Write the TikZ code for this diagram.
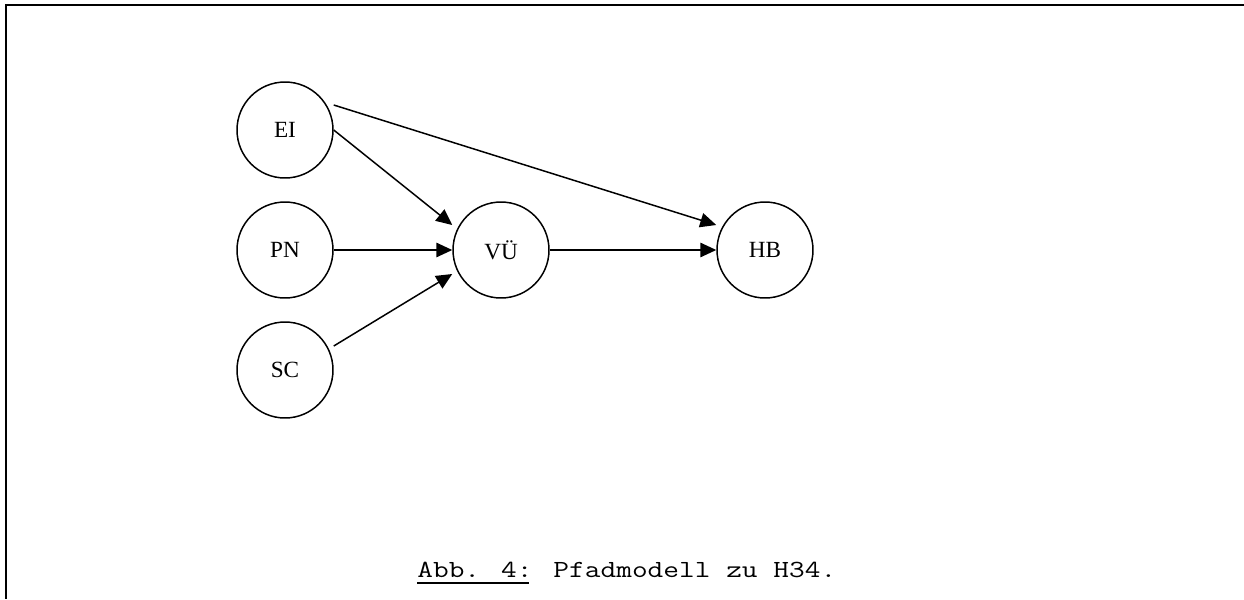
\documentclass[tikz,border=0pt]{standalone}
\usepackage{fontspec}
\setmainfont{Liberation Serif}
\usetikzlibrary{arrows.meta}
\begin{document}
\begin{tikzpicture}[x=0.02cm,y=-0.02cm,
  var/.style={circle,draw,line width=0.85pt,minimum size=1.92cm,inner sep=0pt,font=\fontsize{13.2}{15}\selectfont},
  path/.style={line width=0.85pt,-{Triangle[length=0.32cm,width=0.29cm]}},
  frame/.style={line width=1.2pt}]
\useasboundingbox (0,0) rectangle (1244,599);
\draw[frame] (1244,5) -- (6,5) -- (6,599);
\node[var] (EI) at (285,130) {EI};
\node[var] (PN) at (285,250) {PN};
\node[var] (SC) at (285,370) {SC};
\node[var] (VU) at (501,250) {VÜ};
\node[var] (HB) at (765,250) {HB};
\draw[path] (EI.east) -- ([yshift=0.5cm]VU.west);
\draw[path] ([yshift=0.5cm]EI.east) -- ([yshift=0.5cm]HB.west);
\draw[path] (PN.east) -- (VU.west);
\draw[path] ([yshift=0.48cm]SC.east) -- ([yshift=-0.48cm]VU.west);
\draw[path] (VU.east) -- (HB.west);
\node[anchor=base west,inner sep=0pt,font=\ttfamily\fontsize{14}{16}\selectfont] (cap) at (417,577) {\scalebox{1.24}[1]{\rlap{\rule[-1.4mm]{3.67em}{1.1pt}}Abb. 4: Pfadmodell zu H34.}};
\end{tikzpicture}
\end{document}
